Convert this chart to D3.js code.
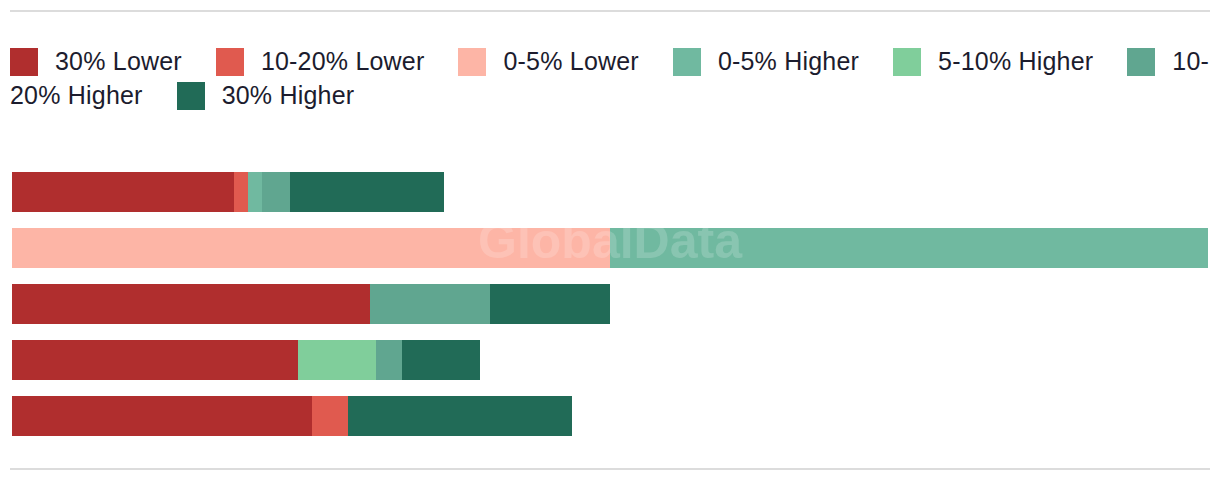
<!DOCTYPE html>
<html><head><meta charset="utf-8">
<script src="https://cdn.jsdelivr.net/npm/d3@7"></script>
<style>
html,body{margin:0;padding:0;background:#fff;}
#wrap{position:relative;width:1220px;height:482px;overflow:hidden;}
svg{position:absolute;left:0;top:0;}
#legend{position:absolute;left:10px;top:44px;width:1200px;font-family:"Liberation Sans",Arial,sans-serif;font-size:25px;letter-spacing:0.2px;line-height:34px;color:#1c1c2e;word-break:break-all;}
.sw{display:inline-block;width:28px;height:28px;vertical-align:top;margin-top:4px;margin-right:17px;}
.lb{margin-right:34px;}
</style></head>
<body><div id="wrap"><svg id="chart" width="1220" height="482"></svg><div id="legend"></div></div>
<script>
const categories = ["Row 1", "Row 2", "Row 3", "Row 4", "Row 5"];
const seriesNames = ["30% Lower", "10-20% Lower", "0-5% Lower", "0-5% Higher", "5-10% Higher", "10-20% Higher", "30% Higher"];
const seriesColors = ["#b02e2e", "#e05a4f", "#fdb5a6", "#70b9a0", "#80ce9b", "#60a690", "#216b57"];
const lower30 = [18.56, 0, 29.93, 23.91, 25.08];
const lower10to20 = [1.15, 0, 0, 0, 3.01];
const lower0to5 = [0, 50, 0, 0, 0];
const higher0to5 = [1.19, 50, 0, 0, 0];
const higher5to10 = [0, 0, 0, 6.52, 0];
const higher10to20 = [2.32, 0, 10.0, 2.17, 0];
const higher30 = [12.89, 0, 10.07, 6.52, 18.73];
const xDomain = [0, 100];
const watermark = "GlobalData";

const seriesValues = [lower30, lower10to20, lower0to5, higher0to5, higher5to10, higher10to20, higher30];
const rows = categories.map((c, i) => {
  const r = {category: c};
  seriesNames.forEach((s, j) => r[s] = seriesValues[j][i]);
  return r;
});

const svg = d3.select("#chart");
const x = d3.scaleLinear().domain(xDomain).range([12, 1208]);
const y = d3.scaleBand().domain(categories).range([172, 436]).paddingInner(16 / 56).paddingOuter(0);
const color = d3.scaleOrdinal().domain(seriesNames).range(seriesColors);

// rules
svg.append("rect").attr("x", 10).attr("y", 10).attr("width", 1200).attr("height", 2).attr("fill", "#dcdcdc");
svg.append("rect").attr("x", 10).attr("y", 468).attr("width", 1200).attr("height", 2).attr("fill", "#dcdcdc");

const stacked = d3.stack().keys(seriesNames)(rows);
svg.append("g").selectAll("g").data(stacked).join("g")
  .attr("fill", d => color(d.key))
  .selectAll("rect").data(d => d.filter(p => p[1] - p[0] > 0)).join("rect")
  .attr("x", d => x(d[0]))
  .attr("y", d => y(d.data.category))
  .attr("width", d => x(d[1]) - x(d[0]))
  .attr("height", y.bandwidth())
  .attr("shape-rendering", "crispEdges");

svg.append("text").attr("x", 610).attr("y", 258)
  .attr("text-anchor", "middle")
  .attr("font-family", "'Liberation Sans', Arial, sans-serif")
  .attr("font-weight", "bold").attr("font-size", 50)
  .attr("fill", "#ffffff").attr("fill-opacity", 0.18)
  .text(watermark);

// legend
const legend = d3.select("#legend");
seriesNames.forEach(s => {
  legend.append("span").attr("class", "sw").style("background", color(s));
  legend.append("span").attr("class", "lb").text(s);
});
</script>
</body></html>
